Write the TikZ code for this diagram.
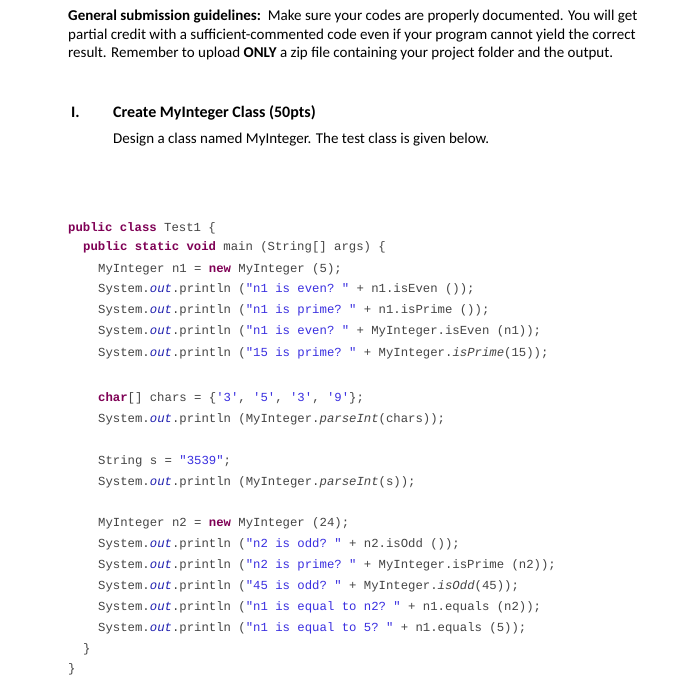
\documentclass[tikz,border=0pt]{standalone}
\usepackage{fontspec}
\setmainfont{Carlito}
\setmonofont{Liberation Mono}
\definecolor{kwc}{HTML}{7F0055}
\definecolor{stc}{HTML}{3A2FE0}
\definecolor{ouc}{HTML}{2020B0}
\definecolor{plc}{HTML}{444444}
\newcommand{\kwd}[1]{\textcolor{kwc}{\bfseries #1}}
\newcommand{\jstr}[1]{\textcolor{stc}{#1}}
\newcommand{\outt}{\textcolor{ouc}{\itshape out}}
\newcommand{\itm}[1]{\textit{#1}}
\begin{document}
\begin{tikzpicture}[x=1pt,y=-1pt,
  hd/.style={anchor=base west,inner sep=0pt,font=\fontsize{15}{17}\selectfont},
  cd/.style={anchor=base west,inner sep=0pt,text=plc,font=\ttfamily\fontsize{12.3}{14}\selectfont}]
\useasboundingbox[fill=white] (0,0) rectangle (675,700);
\node[hd] (h1) at (68,21) {\textbf{General submission guidelines:}\ \ Make sure your codes are properly documented. You will get};
\node[hd] (h2) at (68,40) {partial credit with a sufficient-commented code even if your program cannot yield the correct};
\node[hd] (h3) at (68,58) {result. Remember to upload \textbf{ONLY} a zip file containing your project folder and the output.};
\node[hd,font=\fontsize{16}{18}\selectfont\bfseries] (s1) at (71,118) {I.};
\node[hd,font=\fontsize{16}{18}\selectfont\bfseries] (s2) at (113,118) {Create MyInteger Class (50pts)};
\node[hd] (s3) at (113,144) {Design a class named MyInteger. The test class is given below.};
\node[cd] (c1) at (68,232) {\kwd{public class} Test1 \{};
\node[cd] (c2) at (83,251) {\kwd{public static void} main (String[] args) \{};
\node[cd] (c3) at (98,272) {MyInteger n1 = \kwd{new} MyInteger (5);};
\node[cd] (c4) at (98,292) {System.\outt.println (\jstr{"n1 is even? "} + n1.isEven ());};
\node[cd] (c5) at (98,313) {System.\outt.println (\jstr{"n1 is prime? "} + n1.isPrime ());};
\node[cd] (c6) at (98,334) {System.\outt.println (\jstr{"n1 is even? "} + MyInteger.isEven (n1));};
\node[cd] (c7) at (98,356) {System.\outt.println (\jstr{"15 is prime? "} + MyInteger.\itm{isPrime}(15));};
\node[cd] (c8) at (98,401) {\kwd{char}[] chars = \{\jstr{'3'}, \jstr{'5'}, \jstr{'3'}, \jstr{'9'}\};};
\node[cd] (c9) at (98,422) {System.\outt.println (MyInteger.\itm{parseInt}(chars));};
\node[cd] (c10) at (98,464) {String s = \jstr{"3539"};};
\node[cd] (c11) at (98,485) {System.\outt.println (MyInteger.\itm{parseInt}(s));};
\node[cd] (c12) at (98,526) {MyInteger n2 = \kwd{new} MyInteger (24);};
\node[cd] (c13) at (98,547) {System.\outt.println (\jstr{"n2 is odd? "} + n2.isOdd ());};
\node[cd] (c14) at (98,568) {System.\outt.println (\jstr{"n2 is prime? "} + MyInteger.isPrime (n2));};
\node[cd] (c15) at (98,589) {System.\outt.println (\jstr{"45 is odd? "} + MyInteger.\itm{isOdd}(45));};
\node[cd] (c16) at (98,610) {System.\outt.println (\jstr{"n1 is equal to n2? "} + n1.equals (n2));};
\node[cd] (c17) at (98,631) {System.\outt.println (\jstr{"n1 is equal to 5? "} + n1.equals (5));};
\node[cd] (c18) at (83,652) {\}};
\node[cd] (c19) at (68,672) {\}};
\end{tikzpicture}
\end{document}
